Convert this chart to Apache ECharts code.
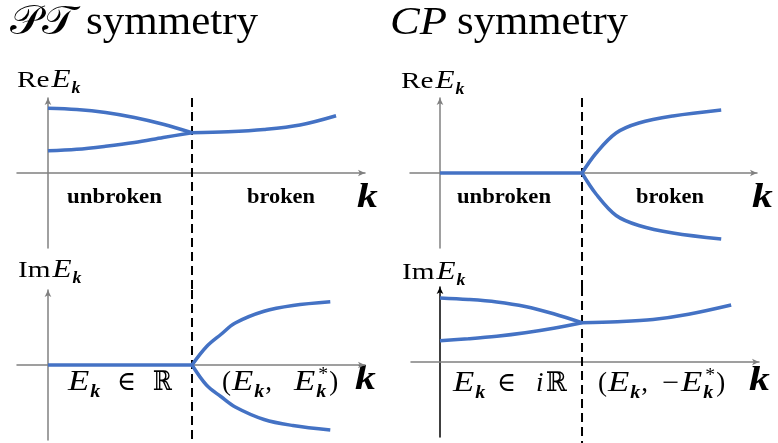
<!DOCTYPE html>
<html><head><meta charset="utf-8">
<script src="https://cdn.jsdelivr.net/npm/echarts@6/dist/echarts.min.js"></script>
<style>html,body{margin:0;padding:0;background:#fff}#c{width:778px;height:443px}</style>
</head><body><div id="c"></div><script>
// ---------- data (k in units of the critical point k_c = 1) ----------
const criticalK = 1;
const unbrokenK = [0, 0.2, 0.4, 0.6, 0.8, 1.0];
const flatK = [0, 1.0];
const flatV = [0, 0];
// PT symmetry, Re E_k
const ptReUpper = [2.59, 2.54, 2.42, 2.22, 1.95, 1.61];
const ptReLower = [0.89, 0.95, 1.07, 1.22, 1.42, 1.61];
const ptReBrokenK = [1.0, 1.25, 1.5, 1.75, 2.0];
const ptReBroken = [1.61, 1.65, 1.74, 1.92, 2.29];
// PT symmetry, Im E_k
const branchK = [1.0, 1.1, 1.2, 1.3, 1.5, 1.7, 1.96];
const ptImUpper = [0, 0.73, 1.22, 1.68, 2.15, 2.38, 2.53];
const ptImLower = [0, -0.8, -1.26, -1.68, -2.18, -2.42, -2.6];
// CP symmetry, Re E_k
const cpBranchK = [1.0, 1.1, 1.24, 1.4, 1.64, 1.98];
const cpReUpper = [0, 0.8, 1.6, 2.0, 2.28, 2.52];
const cpReLower = [0, -0.85, -1.7, -2.1, -2.4, -2.64];
// CP symmetry, Im E_k
const cpImUpper = [2.56, 2.5, 2.4, 2.22, 1.93, 1.57];
const cpImLower = [0.85, 0.93, 1.03, 1.17, 1.35, 1.57];
const cpImBrokenK = [1.0, 1.25, 1.5, 1.75, 2.05];
const cpImBroken = [1.57, 1.61, 1.7, 1.91, 2.28];
// vertical extent of the dashed critical line in each panel (axis units)
const dashTop = [3, 3, 3, 3];
const dashBottom = [-4.68, -3.12, -4.56, -3.24];

// ---------- styling ----------
const BLUE = '#4472C4';
const GRAY = '#808080';
const SERIF = "'Liberation Serif','DejaVu Serif',serif";
const DJS = "'DejaVu Serif',serif";

const zip = (xs, ys) => xs.map((x, i) => [x, ys[i]]);

const grids = [
  {left: 17, top: 98, width: 348, height: 150},
  {left: 17, top: 290, width: 348, height: 150},
  {left: 410, top: 98, width: 347, height: 150},
  {left: 411, top: 287, width: 348, height: 150}
];
const xRanges = [[-0.215, 2.201], [-0.215, 2.201], [-0.211, 2.232], [-0.204, 2.246]];
const yAxisColors = [GRAY, GRAY, GRAY, '#000'];

const xAxis = xRanges.map((r, i) => ({
  type: 'value', gridIndex: i, min: r[0], max: r[1],
  axisLine: {show: true, symbol: ['none', 'arrow'], symbolSize: [5, 7], lineStyle: {color: GRAY, width: 1.5}},
  axisTick: {show: false}, axisLabel: {show: false}, splitLine: {show: false}
}));
const yAxis = yAxisColors.map((c, i) => ({
  type: 'value', gridIndex: i, min: -3, max: 3,
  axisLine: {show: true, symbol: ['none', 'arrow'], symbolSize: [5, 7], lineStyle: {color: c, width: 1.5}},
  axisTick: {show: false}, axisLabel: {show: false}, splitLine: {show: false}
}));

function curve(i, data) {
  return {type: 'line', xAxisIndex: i, yAxisIndex: i, data, smooth: 0.35, showSymbol: false,
    lineStyle: {color: BLUE, width: 3.5}, silent: true, z: 3};
}
function dashed(i) {
  return {type: 'line', xAxisIndex: i, yAxisIndex: i, clip: false, showSymbol: false, silent: true, z: 2,
    data: [[criticalK, dashTop[i]], [criticalK, dashBottom[i]]],
    lineStyle: {color: '#000', width: 2, type: [9, 5]}};
}

const series = [
  curve(0, zip(unbrokenK, ptReUpper)), curve(0, zip(unbrokenK, ptReLower)), curve(0, zip(ptReBrokenK, ptReBroken)),
  curve(1, zip(flatK, flatV)), curve(1, zip(branchK, ptImUpper)), curve(1, zip(branchK, ptImLower)),
  curve(2, zip(flatK, flatV)), curve(2, zip(cpBranchK, cpReUpper)), curve(2, zip(cpBranchK, cpReLower)),
  curve(3, zip(unbrokenK, cpImUpper)), curve(3, zip(unbrokenK, cpImLower)), curve(3, zip(cpImBrokenK, cpImBroken)),
  dashed(0), dashed(1), dashed(2), dashed(3)
];

// ---------- math-like text: glyph groups laid out in a row (x fixes a start, otherwise flow) ----------
const mctx = document.createElement('canvas').getContext('2d');
function fontStr(p) {
  return (p.style || 'normal') + ' ' + (p.weight || 'normal') + ' ' + p.size + 'px ' + (p.family || SERIF);
}
function line(base, parts) {
  let cx = 0;
  return parts.map(p => {
    const f = fontStr(p);
    mctx.font = f;
    const mw = mctx.measureText(p.t).width;
    const sx = p.w ? Math.max(0.85, Math.min(1.22, p.w / mw)) : (p.sx || 1);
    const x = (p.x !== undefined) ? p.x : cx + (p.gap || 0);
    if (!p.noAdv) cx = x + mw * sx;
    return {type: 'text', x: x + (p.nudge || 0), y: base + (p.dy || 0) - 0.34 * p.size, scaleX: sx, silent: true,
      style: {text: p.t, font: f, fill: '#000', verticalAlign: 'middle', align: 'left'}};
  });
}
const R = (t, o) => Object.assign({t, size: M}, o);
const I = (t, o) => Object.assign({t, size: ME, style: 'italic'}, o);
const B = (t, o) => Object.assign({t, size: W, weight: 'bold'}, o);
const KB = (o) => Object.assign({t: 'k', size: K, style: 'italic', weight: 'bold'}, o);
const SUBK = (s, o) => Object.assign({t: 'k', size: Math.round(s * 0.68), style: 'italic', weight: 'bold', dy: Math.round(s * 0.22), sx: 1.12, gap: 1}, o);
const SUP = (s, o) => Object.assign({t: '*', size: Math.round(s * 0.68), dy: -Math.round(s * 0.42), noAdv: true, nudge: 3, sx: 1.1}, o);
const BB = (o) => Object.assign({t: 'ℝ', size: M, family: DJS}, o);
const EL = (o) => Object.assign({t: '∈', size: M, family: DJS}, o);

const T = 41, L = 24, LE = 26, M = 27, ME = 29, K = 34, W = 22;
const graphics = [].concat(
  line(37, [{t: '𝒫𝒯', x: 10, w: 65, size: T}, R('symmetry', {x: 86, w: 172, size: T})]),
  line(37, [I('CP', {x: 390, w: 57, size: T}), R('symmetry', {x: 457, w: 171, size: T})]),
  line(89, [R('Re', {x: 17, sx: 1.22, size: L}), I('E', {size: LE, sx: 1.2, gap: 2}), SUBK(L)]),
  line(90, [R('Re', {x: 401, sx: 1.22, size: L}), I('E', {size: LE, sx: 1.2, gap: 2}), SUBK(L)]),
  line(279, [R('Im', {x: 18, sx: 1.22, size: L}), I('E', {size: LE, sx: 1.2, gap: 2}), SUBK(L)]),
  line(281, [R('Im', {x: 402, sx: 1.22, size: L}), I('E', {size: LE, sx: 1.2, gap: 2}), SUBK(L)]),
  line(205, [B('unbroken', {x: 67, w: 95}), B('broken', {x: 247, w: 68})]),
  line(205, [B('unbroken', {x: 457, w: 94}), B('broken', {x: 636, w: 68})]),
  line(210, [KB({x: 357, w: 22}), KB({x: 752, w: 22})]),
  line(392, [KB({x: 355, w: 25})]),
  line(393, [KB({x: 749, w: 25})]),
  line(392, [I('E', {x: 68, sx: 1.2}), SUBK(M), EL({x: 117, w: 19}), BB({x: 153, w: 19})]),
  line(392, [R('(', {x: 222}), I('E', {sx: 1.2, gap: 1}), SUBK(M), R(',', {gap: 1}),
             I('E', {x: 294, sx: 1.2}), SUP(M), SUBK(M), R(')', {gap: 3})]),
  line(393, [I('E', {x: 453, sx: 1.2}), SUBK(M), EL({x: 497, w: 19}), I('i', {x: 536, size: M}), BB({x: 546, w: 21})]),
  line(393, [R('(', {x: 598}), I('E', {sx: 1.2, gap: 1}), SUBK(M), R(',', {gap: 1}), R('−', {x: 662, w: 17}),
             I('E', {gap: 2, sx: 1.2}), SUP(M), SUBK(M), R(')', {gap: 3})])
);

const chart = echarts.init(document.getElementById('c'), null, {renderer: 'canvas'});
chart.setOption({
  animation: false,
  backgroundColor: '#fff',
  grid: grids,
  xAxis, yAxis, series,
  graphic: graphics
});
</script></body></html>
